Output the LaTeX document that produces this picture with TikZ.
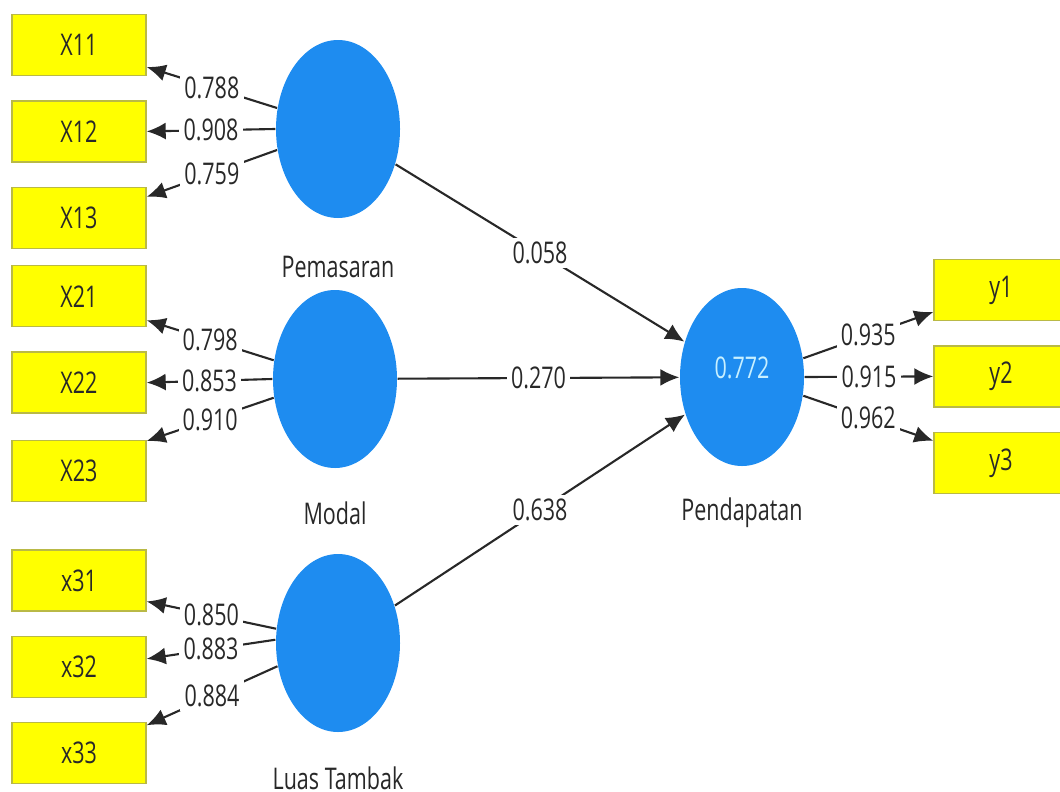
\documentclass[tikz,border=0pt]{standalone}
\usepackage{fontspec}
\setmainfont[FakeStretch=0.72]{Open Sans}
\usetikzlibrary{positioning, shapes.geometric, arrows.meta}
\definecolor{lvblue}{RGB}{30,140,240}
\definecolor{indyellow}{RGB}{255,255,0}
\definecolor{indborder}{RGB}{185,185,70}
\definecolor{txtgrey}{RGB}{40,40,40}
\definecolor{rsqtext}{RGB}{200,240,255}

\begin{document}
\begin{tikzpicture}[node distance=2.4mm,>={Latex[length=1.9mm,width=1.7mm]},font=\fontsize{8.5}{10}\selectfont,text=txtgrey]

	\tikzstyle{ind}=[draw=indborder,fill=indyellow,minimum width=1.34cm,minimum height=0.61cm,inner sep=0pt]
	\tikzstyle{latent}=[ellipse,fill=lvblue,minimum width=1.24cm,minimum height=1.78cm,inner sep=0pt]
	\tikzstyle{weight}=[fill=white,inner sep=1.2pt,pos=0.5]
	\tikzstyle{capt}=[inner sep=0pt]
	\tikzstyle{path}=[->,line width=0.6pt,draw=txtgrey]

	\useasboundingbox (0,0) rectangle (10.6,-7.91);

	% indicators
	\node[ind] (x11) at (0.79,-0.45) {X11};
	\node[ind,below=of x11] (x12) {X12};
	\node[ind,below=of x12] (x13) {X13};
	\node[ind,below=1.6mm of x13] (x21) {X21};
	\node[ind,below=of x21] (x22) {X22};
	\node[ind,below=2.6mm of x22] (x23) {X23};
	\node[ind,below=4.7mm of x23] (x31) {x31};
	\node[ind,below=of x31] (x32) {x32};
	\node[ind,below=of x32] (x33) {x33};
	\node[ind] (y1) at (10.01,-2.90) {y1};
	\node[ind,below=of y1] (y2) {y2};
	\node[ind,below=of y2] (y3) {y3};

	% latent variables
	\node[latent] (pem) at (3.38,-1.29) {};
	\node[latent] (mod) at (3.35,-3.79) {};
	\node[latent] (luas) at (3.38,-6.43) {};
	\node[latent] (pend) at (7.42,-3.77) {};
	\node[text=rsqtext] (rsq) at ([yshift=0.9mm]pend.center) {0.772};
	\node[capt,below=3.7mm of pem] (pemlbl) {Pemasaran};
	\node[capt,below=3.2mm of mod] (modlbl) {Modal};
	\node[capt,below=3.3mm of luas] (luaslbl) {Luas Tambak};
	\node[capt,below=3.0mm of pend] (pendlbl) {Pendapatan};

	% outer loadings
	\draw[path] (pem.161) -- node[weight] (w11) {0.788} ([yshift=-2.2mm]x11.east);
	\draw[path] (pem.west) -- node[weight] (w12) {0.908} (x12.east);
	\draw[path] (pem.199) -- node[weight] (w13) {0.759} ([yshift=2.1mm]x13.east);
	\draw[path] (mod.163) -- node[weight] (w21) {0.798} ([yshift=-2.4mm]x21.east);
	\draw[path] (mod.west) -- node[weight] (w22) {0.853} (x22.east);
	\draw[path] (mod.197) -- node[weight] (w23) {0.910} ([yshift=3.0mm]x23.east);
	\draw[path] (luas.167) -- node[weight] (w31) {0.850} ([yshift=-2.1mm]x31.east);
	\draw[path] (luas.177) -- node[weight] (w32) {0.883} ([yshift=0.8mm]x32.east);
	\draw[path] (luas.201) -- node[weight] (w33) {0.884} ([yshift=2.8mm]x33.east);
	\draw[path] (pend.17) -- node[weight] (wy1) {0.935} ([yshift=-2.2mm]y1.west);
	\draw[path] (pend.east) -- node[weight] (wy2) {0.915} (y2.west);
	\draw[path] (pend.-17) -- node[weight] (wy3) {0.962} ([yshift=2.2mm]y3.west);

	% inner model
	\draw[path] (pem) -- node[weight] (b1) {0.058} (pend);
	\draw[path] (mod) -- node[weight] (b2) {0.270} (pend);
	\draw[path] (luas) -- node[weight] (b3) {0.638} (pend);
\end{tikzpicture}
\end{document}
